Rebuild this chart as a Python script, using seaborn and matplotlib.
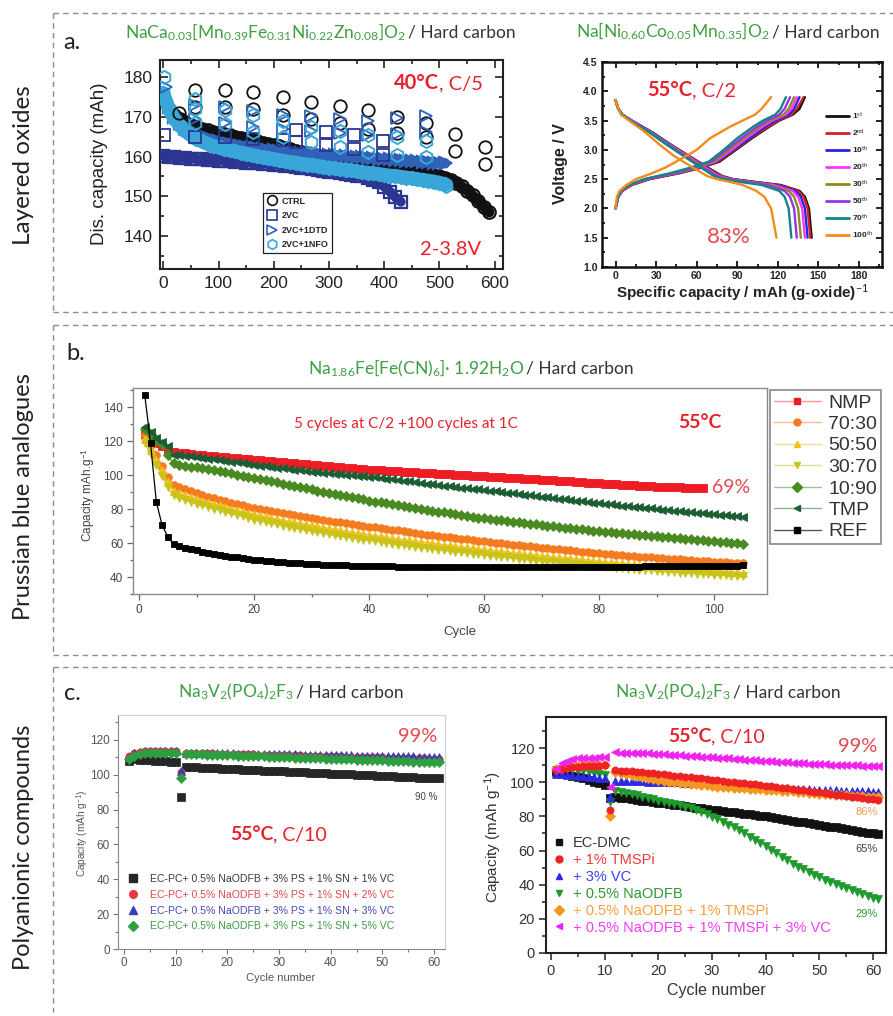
import numpy as np
import matplotlib
matplotlib.use("Agg")
import matplotlib.pyplot as plt
from matplotlib.lines import Line2D
from matplotlib.ticker import MultipleLocator, FormatStrFormatter
import seaborn as sns

# ======================= DATA =======================
# ---- (a) left: NaCa0.03[...]O2 / HC, discharge capacity vs cycle ----
A1_CTRL_CYC = list(range(0, 600, 10))
A1_CTRL_CAP = [174.0, 172.0, 170.5, 169.5, 168.7, 168.0, 167.5, 167.0, 166.6, 166.2,
               165.9, 165.6, 165.3, 165.0, 164.7, 164.4, 164.1, 163.8, 163.5, 163.2,
               162.9, 162.6, 162.2, 161.9, 161.5, 161.2, 160.8, 160.5, 160.1, 159.8,
               159.5, 159.2, 158.9, 158.6, 158.4, 158.2, 158.0, 157.8, 157.6, 157.4,
               157.2, 157.0, 156.8, 156.6, 156.4, 156.2, 156.0, 155.8, 155.6, 155.4,
               155.1, 154.7, 154.1, 153.4, 152.5, 151.4, 150.2, 148.8, 147.4, 146.0]
A1_VC_CYC = list(range(0, 440, 10))
A1_VC_CAP = [160.2, 160.0, 159.8, 159.7, 159.6, 159.5, 159.4, 159.3, 159.2, 159.1,
             159.0, 158.9, 158.8, 158.7, 158.6, 158.5, 158.4, 158.3, 158.2, 158.1,
             158.0, 157.8, 157.7, 157.5, 157.4, 157.2, 157.0, 156.8, 156.6, 156.4,
             156.2, 156.0, 155.8, 155.6, 155.4, 155.2, 155.0, 154.7, 154.2, 153.5,
             152.4, 151.2, 149.8, 148.6]
A1_DTD_CYC = list(range(0, 520, 10))
A1_DTD_CAP = [176.0, 172.5, 170.0, 168.5, 167.3, 166.4, 165.7, 165.1, 164.6, 164.2,
              163.8, 163.5, 163.2, 162.9, 162.7, 162.5, 162.3, 162.1, 161.9, 161.7,
              161.6, 161.4, 161.3, 161.2, 161.0, 160.9, 160.8, 160.7, 160.6, 160.5,
              160.4, 160.3, 160.2, 160.1, 160.0, 159.9, 159.8, 159.7, 159.6, 159.5,
              159.4, 159.3, 159.2, 159.1, 159.0, 158.9, 158.8, 158.7, 158.6, 158.5,
              158.4, 158.3]
A1_NFO_CYC = list(range(0, 520, 10))
A1_NFO_CAP = [176.0, 172.0, 169.5, 167.8, 166.5, 165.4, 164.5, 163.8, 163.2, 162.7,
              162.3, 161.9, 161.6, 161.3, 161.0, 160.7, 160.4, 160.1, 159.8, 159.6,
              159.3, 159.1, 158.8, 158.6, 158.4, 158.2, 158.0, 157.8, 157.6, 157.4,
              157.2, 157.0, 156.8, 156.7, 156.5, 156.3, 156.1, 155.9, 155.8, 155.6,
              155.4, 155.2, 155.1, 154.9, 154.7, 154.5, 154.3, 154.1, 153.9, 153.7,
              153.4, 153.0]
# periodic check-up points
A1_CTRL_SP_CYC = [28, 58, 58, 111, 111, 163, 163, 216, 216, 268, 268, 320, 320, 371, 371,
                  423, 423, 475, 475, 529, 529, 583, 583]
A1_CTRL_SP_CAP = [171.0, 176.7, 172.5, 176.7, 172.5, 176.2, 172.0, 174.9, 170.5, 173.7, 169.5,
                  172.6, 168.5, 171.6, 167.0, 170.0, 166.0, 168.4, 165.0, 165.6, 161.3, 162.3, 158.2]
A1_VC_SP_CYC = [2, 58, 111, 163, 216, 241, 241, 294, 294, 345, 345, 398, 398, 430]
A1_VC_SP_CAP = [165.5, 165.0, 164.8, 164.5, 164.2, 166.6, 163.6, 166.2, 163.0, 165.3, 161.8, 163.9, 160.4,
                148.6]
A1_DTD_SP_CYC = [4, 58, 58, 111, 111, 163, 163, 216, 216, 268, 268, 320, 320, 371, 371,
                 423, 423, 475, 475, 511]
A1_DTD_SP_CAP = [177.5, 173.0, 169.5, 172.5, 168.5, 171.5, 167.5, 170.5, 167.0, 170.1, 166.5,
                 169.4, 166.0, 169.0, 165.5, 169.8, 165.8, 170.2, 166.3, 158.3]
A1_NFO_SP_CYC = [2, 58, 58, 58, 111, 111, 163, 163, 216, 216, 268, 268, 320, 320, 371, 371,
                 423, 423, 475, 475, 512]
A1_NFO_SP_CAP = [180.0, 174.5, 172.0, 168.5, 171.8, 168.2, 170.5, 166.2, 169.0, 164.8, 167.5,
                 163.6, 166.5, 162.5, 165.5, 161.2, 164.8, 160.4, 164.0, 159.8, 152.5]

# ---- (a) right: voltage profiles ----
A2_CYCLES = ['1st', '2nd', '10th', '20th', '30th', '50th', '70th', '100th']
A2_V_CHG = [2.0, 2.2, 2.3, 2.4, 2.5, 2.6, 2.7, 2.8, 3.0, 3.2, 3.4, 3.5, 3.6, 3.7, 3.9]
A2_CAP_CHG = {
    '1st':   [0, 2, 5, 12, 25, 47, 64, 77, 89, 101, 114, 121, 131, 136, 140],
    '2nd':   [0, 2, 5, 12, 25, 46, 63, 76, 88, 100, 113, 120, 130, 134, 139],
    '10th':  [0, 2, 5, 11, 24, 45, 62, 75, 87, 99, 111, 118, 128, 132, 136],
    '20th':  [0, 2, 5, 11, 23, 44, 61, 74, 86, 97, 109, 116, 126, 130, 134],
    '30th':  [0, 2, 4, 11, 23, 43, 60, 73, 84, 95, 107, 114, 124, 128, 132],
    '50th':  [0, 2, 4, 10, 22, 42, 58, 71, 82, 93, 105, 112, 121, 125, 129],
    '70th':  [0, 2, 4, 10, 21, 40, 56, 69, 80, 90, 102, 109, 118, 122, 126],
    '100th': [0, 1, 3, 8, 15, 27, 37, 45, 60, 70, 85, 94, 103, 108, 115],
}
A2_V_DIS = [3.85, 3.7, 3.6, 3.5, 3.3, 3.1, 2.9, 2.7, 2.55, 2.5, 2.45, 2.4, 2.3, 2.2, 2.0, 1.5]
A2_CAP_DIS = {
    '1st':   [0, 2, 5, 12, 27, 40, 54, 68, 79, 87, 104, 122, 136, 140, 143, 145],
    '2nd':   [0, 2, 5, 12, 27, 40, 54, 68, 79, 87, 103, 121, 135, 139, 142, 144],
    '10th':  [0, 2, 5, 12, 27, 40, 53, 67, 78, 86, 102, 119, 133, 137, 140, 142],
    '20th':  [0, 2, 5, 12, 26, 39, 53, 66, 77, 85, 100, 117, 131, 135, 138, 140],
    '30th':  [0, 2, 5, 11, 26, 39, 52, 65, 76, 84, 98, 115, 128, 132, 135, 137],
    '50th':  [0, 2, 5, 11, 25, 38, 51, 64, 75, 82, 96, 112, 125, 129, 132, 134],
    '70th':  [0, 2, 5, 11, 25, 37, 50, 63, 73, 80, 93, 108, 121, 125, 128, 130],
    '100th': [0, 2, 4, 10, 22, 32, 43, 57, 68, 75, 85, 94, 104, 110, 115, 119],
}
A2_COLORS = ['#111111', '#d42323', '#2424e6', '#ff33ff', '#8c8c1e', '#9933e6', '#138585', '#f28c1e']

# ---- (b) Prussian blue analogue ----
B_NAMES = ['NMP', '70:30', '50:50', '30:70', '10:90', 'TMP', 'REF']
B_NMP = [124.0, 121.5, 119.0, 117.0, 115.0, 113.5, 113.1, 112.8, 112.4, 112.0,
         111.7, 111.4, 111.1, 110.8, 110.5, 110.2, 109.9, 109.6, 109.3, 109.0,
         108.7, 108.4, 108.1, 107.8, 107.5, 107.2, 106.9, 106.6, 106.3, 106.0,
         105.7, 105.4, 105.1, 104.8, 104.5, 104.2, 103.9, 103.7, 103.4, 103.2,
         103.0, 102.8, 102.6, 102.4, 102.2, 102.0, 101.8, 101.6, 101.4, 101.2,
         101.0, 100.8, 100.6, 100.4, 100.2, 100.0, 99.8, 99.6, 99.4, 99.2,
         99.0, 98.8, 98.6, 98.4, 98.2, 98.0, 97.8, 97.6, 97.4, 97.2,
         97.0, 96.8, 96.6, 96.4, 96.2, 96.0, 95.8, 95.6, 95.4, 95.2,
         95.0, 94.8, 94.6, 94.4, 94.2, 94.0, 93.8, 93.6, 93.4, 93.2,
         93.0, 92.9, 92.8, 92.7, 92.6, 92.5, 92.4, 92.3]
B_7030 = [123.5, 117.5, 111.5, 105.5, 99.0, 94.0, 92.8, 91.6, 90.4, 89.3,
          88.3, 87.3, 86.3, 85.4, 84.5, 83.7, 82.9, 82.1, 81.3, 80.5,
          79.9, 79.3, 78.6, 78.0, 77.4, 76.8, 76.2, 75.7, 75.1, 74.6,
          74.1, 73.6, 73.1, 72.6, 72.1, 71.6, 71.1, 70.6, 70.2, 69.7,
          69.2, 68.7, 68.3, 67.8, 67.4, 66.9, 66.5, 66.0, 65.5, 65.0,
          64.6, 64.2, 63.8, 63.4, 63.0, 62.6, 62.2, 61.8, 61.4, 61.0,
          60.6, 60.2, 59.9, 59.5, 59.1, 58.8, 58.4, 58.0, 57.7, 57.3,
          57.0, 56.6, 56.3, 55.9, 55.6, 55.3, 55.0, 54.6, 54.3, 54.0,
          53.7, 53.4, 53.1, 52.8, 52.5, 52.3, 52.0, 51.7, 51.5, 51.2,
          51.0, 50.7, 50.5, 50.3, 50.0, 49.8, 49.6, 49.4, 49.2, 49.0,
          48.8, 48.6, 48.4, 48.2, 48.0]
B_5050 = [121.0, 115.0, 109.0, 103.0, 96.0, 90.5, 89.2, 88.0, 87.0, 86.0,
          85.0, 84.0, 83.0, 82.1, 81.2, 80.3, 79.4, 78.6, 77.8, 77.0,
          76.3, 75.6, 74.9, 74.2, 73.5, 72.8, 72.2, 71.6, 71.0, 70.4,
          69.8, 69.2, 68.6, 68.0, 67.4, 66.9, 66.4, 65.9, 65.4, 64.9,
          64.4, 63.9, 63.4, 63.0, 62.5, 62.0, 61.6, 61.1, 60.7, 60.2,
          59.8, 59.4, 59.0, 58.6, 58.2, 57.8, 57.4, 57.0, 56.6, 56.2,
          55.8, 55.4, 55.1, 54.7, 54.4, 54.0, 53.7, 53.3, 53.0, 52.6,
          52.3, 52.0, 51.6, 51.3, 51.0, 50.6, 50.3, 50.0, 49.6, 49.3,
          49.0, 48.7, 48.4, 48.1, 47.8, 47.5, 47.2, 46.9, 46.6, 46.3,
          46.0, 45.8, 45.5, 45.3, 45.0, 44.8, 44.5, 44.3, 44.0, 43.8,
          43.5, 43.3, 43.0, 42.8, 42.5]
B_3070 = [119.0, 112.5, 106.0, 99.5, 93.0, 88.0, 86.5, 85.3, 84.2, 83.2,
          82.2, 81.2, 80.2, 79.2, 78.3, 77.4, 76.5, 75.6, 74.7, 73.8,
          73.0, 72.3, 71.6, 70.9, 70.2, 69.5, 68.8, 68.2, 67.6, 67.0,
          66.4, 65.8, 65.2, 64.6, 64.0, 63.5, 63.0, 62.5, 62.0, 61.5,
          61.0, 60.5, 60.0, 59.6, 59.1, 58.7, 58.2, 57.8, 57.3, 56.9,
          56.5, 56.1, 55.7, 55.3, 54.9, 54.5, 54.1, 53.7, 53.3, 52.9,
          52.5, 52.2, 51.8, 51.5, 51.1, 50.8, 50.4, 50.1, 49.7, 49.4,
          49.1, 48.8, 48.4, 48.1, 47.8, 47.5, 47.2, 46.9, 46.6, 46.3,
          46.0, 45.7, 45.5, 45.2, 44.9, 44.7, 44.4, 44.1, 43.9, 43.6,
          43.4, 43.1, 42.9, 42.6, 42.4, 42.2, 41.9, 41.7, 41.5, 41.3,
          41.1, 40.9, 40.7, 40.5, 40.3]
B_1090 = [127.0, 124.0, 120.5, 118.0, 111.5, 107.0, 106.0, 105.5, 105.0, 104.5,
          103.9, 103.3, 102.7, 102.1, 101.5, 100.9, 100.3, 99.7, 99.1, 98.5,
          97.8, 97.1, 96.4, 95.7, 95.0, 94.3, 93.6, 92.9, 92.2, 91.5,
          90.8, 90.1, 89.4, 88.7, 88.0, 87.4, 86.8, 86.2, 85.6, 85.0,
          84.4, 83.9, 83.3, 82.8, 82.2, 81.7, 81.1, 80.6, 80.0, 79.5,
          79.0, 78.5, 78.0, 77.5, 77.0, 76.5, 76.0, 75.5, 75.0, 74.5,
          74.1, 73.7, 73.3, 72.9, 72.5, 72.1, 71.7, 71.3, 70.9, 70.5,
          70.1, 69.8, 69.4, 69.1, 68.7, 68.4, 68.0, 67.7, 67.3, 67.0,
          66.7, 66.4, 66.1, 65.8, 65.5, 65.2, 64.9, 64.6, 64.3, 64.0,
          63.7, 63.4, 63.1, 62.8, 62.5, 62.2, 61.9, 61.6, 61.3, 61.0,
          60.7, 60.4, 60.1, 59.8, 59.5]
B_TMP = [128.5, 125.5, 122.0, 119.5, 117.0, 112.0, 111.6, 111.3, 110.9, 110.5,
         110.1, 109.7, 109.2, 108.8, 108.4, 107.9, 107.5, 107.0, 106.5, 106.0,
         105.6, 105.2, 104.8, 104.4, 104.0, 103.6, 103.2, 102.8, 102.4, 102.0,
         101.7, 101.4, 101.1, 100.8, 100.5, 100.2, 99.9, 99.6, 99.3, 99.0,
         98.6, 98.2, 97.8, 97.4, 97.0, 96.6, 96.2, 95.8, 95.4, 95.0,
         94.6, 94.2, 93.8, 93.4, 93.0, 92.6, 92.2, 91.9, 91.5, 91.2,
         90.8, 90.4, 90.0, 89.6, 89.2, 88.8, 88.4, 88.0, 87.6, 87.2,
         86.8, 86.4, 86.0, 85.6, 85.3, 84.9, 84.5, 84.1, 83.8, 83.4,
         83.1, 82.7, 82.4, 82.0, 81.7, 81.4, 81.0, 80.7, 80.4, 80.0,
         79.7, 79.4, 79.1, 78.8, 78.4, 78.1, 77.8, 77.5, 77.2, 76.9,
         76.6, 76.3, 76.0, 75.7, 75.4]
B_REF = [147.0, 118.8, 84.3, 70.6, 63.7, 59.2, 58.2, 57.3, 56.5, 55.7,
         55.0, 54.3, 53.7, 53.1, 52.5, 52.0, 51.5, 51.0, 50.6, 50.2,
         49.8, 49.5, 49.2, 48.9, 48.6, 48.4, 48.2, 48.0, 47.8, 47.6,
         47.4, 47.3, 47.2, 47.0, 46.9, 46.8, 46.7, 46.6, 46.5, 46.4,
         46.3, 46.3, 46.2, 46.2, 46.1, 46.1, 46.0, 46.0, 45.9, 45.9,
         45.9, 45.8, 45.8, 45.8, 45.8, 45.7, 45.7, 45.7, 45.7, 45.7,
         45.7, 45.7, 45.7, 45.7, 45.7, 45.7, 45.7, 45.7, 45.7, 45.7,
         45.7, 45.7, 45.8, 45.8, 45.8, 45.8, 45.8, 45.9, 45.9, 45.9,
         45.9, 46.0, 46.0, 46.0, 46.1, 46.1, 46.1, 46.2, 46.2, 46.2,
         46.3, 46.3, 46.3, 46.4, 46.4, 46.4, 46.5, 46.5, 46.5, 46.6,
         46.6, 46.6, 46.7, 46.7, 46.8]
B_VALUES = [B_NMP, B_7030, B_5050, B_3070, B_1090, B_TMP, B_REF]
B_COLORS = ['#ee1c25', '#f47b20', '#efc21a', '#c9c41c', '#4a8a22', '#1b5e34', '#000000']
B_LINE = ['#f49a9a', '#f7bd92', '#f3df8f', '#e0dd90', '#9fc08f', '#8fae9c', '#555555']
B_MARK = ['s', 'o', '^', 'v', 'D', '<', 's']

# ---- (c) left: Na3V2(PO4)2F3 / HC, EC-PC + additives ----
C1_LABELS = ['EC-PC+ 0.5% NaODFB + 3% PS + 1% SN + 1% VC',
             'EC-PC+ 0.5% NaODFB + 3% PS + 1% SN + 2% VC',
             'EC-PC+ 0.5% NaODFB + 3% PS + 1% SN + 3% VC',
             'EC-PC+ 0.5% NaODFB + 3% PS + 1% SN + 5% VC']
C1_VC1 = [108.0, 108.8, 108.7, 108.5, 108.3, 108.1, 107.9, 107.7, 107.5, 107.3,
          87.5, 104.5, 104.3, 104.2, 104.0, 103.9, 103.8, 103.6, 103.5, 103.4,
          103.2, 103.1, 103.0, 102.8, 102.7, 102.6, 102.4, 102.3, 102.2, 102.0,
          101.9, 101.8, 101.6, 101.5, 101.4, 101.2, 101.1, 101.0, 100.8, 100.7,
          100.6, 100.4, 100.3, 100.2, 100.0, 99.9, 99.8, 99.6, 99.5, 99.4,
          99.2, 99.1, 99.0, 98.8, 98.7, 98.6, 98.4, 98.3, 98.2, 98.0, 97.9]
C1_VC2 = [110.5, 112.5, 113.3, 113.7, 113.8, 113.8, 113.8, 113.7, 113.7, 113.6,
          101.5, 112.6, 112.5, 112.5, 112.4, 112.3, 112.3, 112.2, 112.1, 112.1,
          112.0, 111.9, 111.8, 111.8, 111.7, 111.6, 111.6, 111.5, 111.4, 111.4,
          111.3, 111.2, 111.1, 111.1, 111.0, 110.9, 110.9, 110.8, 110.7, 110.7,
          110.6, 110.5, 110.4, 110.4, 110.3, 110.2, 110.2, 110.1, 110.0, 110.0,
          109.9, 109.8, 109.7, 109.7, 109.6, 109.5, 109.5, 109.4, 109.3, 109.3, 109.2]
C1_VC3 = [110.0, 112.3, 113.3, 113.8, 113.9, 113.9, 113.9, 113.8, 113.8, 113.7,
          102.0, 112.7, 112.7, 112.6, 112.6, 112.5, 112.5, 112.4, 112.4, 112.3,
          112.3, 112.2, 112.2, 112.1, 112.1, 112.0, 112.0, 111.9, 111.9, 111.8,
          111.8, 111.7, 111.7, 111.6, 111.6, 111.5, 111.5, 111.4, 111.4, 111.3,
          111.2, 111.2, 111.1, 111.1, 111.0, 111.0, 110.9, 110.9, 110.8, 110.8,
          110.7, 110.7, 110.6, 110.6, 110.5, 110.5, 110.4, 110.4, 110.3, 110.3, 110.2]
C1_VC5 = [109.0, 111.0, 112.0, 112.5, 112.6, 112.6, 112.6, 112.5, 112.5, 112.4,
          98.0, 112.0, 111.9, 111.8, 111.7, 111.6, 111.5, 111.4, 111.3, 111.2,
          111.1, 111.0, 110.9, 110.8, 110.7, 110.6, 110.5, 110.4, 110.3, 110.2,
          110.1, 110.0, 109.9, 109.8, 109.7, 109.6, 109.5, 109.4, 109.3, 109.2,
          109.1, 109.0, 108.9, 108.8, 108.7, 108.6, 108.5, 108.4, 108.3, 108.2,
          108.1, 108.0, 107.9, 107.8, 107.7, 107.6, 107.5, 107.4, 107.3, 107.2, 107.1]
C1_VALUES = [C1_VC1, C1_VC2, C1_VC3, C1_VC5]
C1_COLORS = ['#262626', '#e8383d', '#3b3bb5', '#2f9e41']
C1_TXTCOL = ['#3a3a3a', '#e04a4f', '#4848b8', '#3a9e48']
C1_MARK = ['s', 'o', '^', 'D']

# ---- (c) right: Na3V2(PO4)2F3 / HC, EC-DMC + additives ----
C2_LABELS = ['EC-DMC', '+ 1% TMSPi', '+ 3% VC', '+ 0.5% NaODFB',
             '+ 0.5% NaODFB + 1% TMSPi', '+ 0.5% NaODFB + 1% TMSPi + 3% VC']
C2_ECDMC = [106.0, 105.3, 104.6, 103.8, 103.0, 102.2, 101.3, 100.4, 99.5, 98.6,
            91.0, 91.5, 91.0, 90.6, 90.1, 89.7, 89.3, 88.8, 88.4, 88.0,
            87.6, 87.2, 86.8, 86.4, 86.0, 85.6, 85.2, 84.8, 84.4, 84.0,
            83.6, 83.2, 82.8, 82.4, 82.0, 81.6, 81.2, 80.8, 80.4, 80.0,
            79.5, 79.0, 78.5, 78.0, 77.5, 77.0, 76.5, 76.0, 75.5, 75.0,
            74.5, 74.0, 73.5, 73.0, 72.5, 72.0, 71.5, 71.0, 70.5, 70.0, 69.5]
C2_TMSPI = [107.0, 108.0, 108.5, 109.0, 109.2, 109.4, 109.5, 109.6, 109.7, 109.8,
            83.5, 107.0, 106.8, 106.6, 106.4, 106.1, 105.8, 105.5, 105.2, 104.9,
            104.6, 104.2, 103.9, 103.6, 103.2, 102.9, 102.5, 102.2, 101.8, 101.5,
            101.1, 100.8, 100.4, 100.1, 99.7, 99.4, 99.0, 98.7, 98.3, 98.0,
            97.6, 97.2, 96.8, 96.4, 96.0, 95.6, 95.2, 94.8, 94.4, 94.0,
            93.6, 93.2, 92.8, 92.4, 92.0, 91.6, 91.2, 90.8, 90.4, 90.0, 89.6]
C2_VC = [105.0, 104.8, 104.5, 104.2, 103.9, 103.6, 103.3, 103.0, 102.7, 102.4,
         91.5, 100.8, 100.7, 100.6, 100.6, 100.5, 100.5, 100.4, 100.4, 100.3,
         100.2, 100.1, 100.0, 99.9, 99.8, 99.7, 99.6, 99.5, 99.4, 99.3,
         99.1, 98.9, 98.7, 98.5, 98.3, 98.1, 97.9, 97.7, 97.5, 97.3,
         97.1, 96.9, 96.7, 96.5, 96.3, 96.2, 96.0, 95.8, 95.7, 95.5,
         95.4, 95.3, 95.2, 95.1, 95.0, 94.9, 94.8, 94.7, 94.6, 94.5, 94.4]
C2_ODFB = [107.0, 107.5, 107.5, 107.2, 106.8, 106.3, 105.8, 105.2, 104.6, 104.0,
           88.5, 95.0, 94.4, 93.8, 93.1, 92.4, 91.6, 90.8, 90.0, 89.2,
           88.5, 87.8, 87.1, 86.4, 85.7, 84.8, 83.8, 82.6, 81.3, 79.9,
           78.4, 76.8, 75.2, 73.5, 71.8, 70.0, 68.2, 66.3, 64.4, 62.4,
           60.4, 58.3, 56.3, 54.3, 52.4, 50.6, 48.9, 47.3, 45.8, 44.4,
           42.9, 41.6, 40.3, 39.1, 37.9, 36.8, 35.7, 34.6, 33.5, 32.5, 31.5]
C2_ODFB_TMSPI = [107.5, 108.5, 109.0, 109.3, 109.6, 109.8, 110.0, 110.0, 110.1, 110.2,
                 80.5, 106.0, 105.4, 104.7, 104.0, 103.4, 102.8, 102.2, 101.7, 101.2,
                 100.8, 100.4, 100.0, 99.6, 99.3, 99.0, 98.7, 98.4, 98.1, 97.8,
                 97.5, 97.3, 97.1, 96.9, 96.7, 96.5, 96.3, 96.1, 95.9, 95.7,
                 95.5, 95.3, 95.1, 94.9, 94.7, 94.5, 94.2, 93.9, 93.6, 93.3,
                 93.1, 92.9, 92.7, 92.5, 92.3, 92.1, 91.9, 91.7, 91.5, 91.3, 91.1]
C2_ODFB_TMSPI_VC = [108.0, 111.0, 112.5, 113.5, 114.0, 114.0, 114.2, 114.3, 114.5, 115.0,
                    97.0, 117.5, 117.4, 117.3, 117.2, 117.1, 117.0, 116.9, 116.7, 116.5,
                    116.3, 116.1, 115.9, 115.7, 115.5, 115.3, 115.1, 114.9, 114.7, 114.5,
                    114.3, 114.1, 113.9, 113.7, 113.5, 113.3, 113.1, 112.9, 112.7, 112.5,
                    112.3, 112.1, 111.9, 111.7, 111.5, 111.3, 111.1, 110.9, 110.7, 110.5,
                    110.4, 110.3, 110.2, 110.1, 110.0, 109.9, 109.8, 109.7, 109.6, 109.5, 109.4]
C2_VALUES = [C2_ECDMC, C2_TMSPI, C2_VC, C2_ODFB, C2_ODFB_TMSPI, C2_ODFB_TMSPI_VC]
C2_COLORS = ['#111111', '#ee2222', '#2b2be6', '#1f9a2c', '#f5961e', '#f022f0']
C2_TXTCOL = ['#333333', '#f03a3a', '#4040ee', '#2a9a36', '#f7a040', '#f040f0']
C2_MARK = ['s', 'o', '^', 'v', 'D', '<']
C2_ORDER = [0, 3, 2, 4, 1, 5]

# ======================= STYLE =======================
sns.set_style("ticks")
plt.rcParams['font.family'] = ['Liberation Sans', 'DejaVu Sans']
plt.rcParams['mathtext.fontset'] = 'custom'
plt.rcParams['mathtext.rm'] = 'Lato'
plt.rcParams['mathtext.it'] = 'Lato:italic'
plt.rcParams['mathtext.bf'] = 'Lato:bold'

W, H = 893, 1016
GREEN = '#3f9f43'
RED = '#e8212a'
PINK = '#e5484f'

fig = plt.figure(figsize=(W / 100, H / 100), dpi=100)
fig.patch.set_facecolor('white')
R = fig.canvas.get_renderer()


def T(x, y, s, **kw):
    return fig.text(x / W, 1 - y / H, s, **kw)


def add_ax(l, t, r, b):
    return fig.add_axes([l / W, 1 - b / H, (r - l) / W, (b - t) / H])


def fline(x0, y0, x1, y1):
    fig.add_artist(Line2D([x0 / W, x1 / W], [1 - y0 / H, 1 - y1 / H], transform=fig.transFigure,
                          color='#7f90a8', lw=1.0, ls=(0, (4, 3))))


def two_part(x, y, s1, s2, size, c1, c2, w1='bold', w2='normal', fam='Lato'):
    t1 = T(x, y, s1, fontsize=size, color=c1, fontweight=w1, family=fam, ha='left', va='baseline')
    bb = t1.get_window_extent(renderer=R)
    T(bb.x1, y, s2, fontsize=size, color=c2, fontweight=w2, family=fam, ha='left', va='baseline')


def title(xslash, y, green, size=12.5):
    T(xslash - 2, y, green, ha='right', va='baseline', color=GREEN, family='Lato', fontsize=size)
    T(xslash, y, '/ Hard carbon', ha='left', va='baseline', color='#333333', family='Lato', fontsize=size)


def draw(ax, x, y, color, marker=None, ms=6, mfc=None, mec=None, mew=1.0, ls='-', lw=1.0, z=2, **kw):
    sns.lineplot(x=np.asarray(x, float), y=np.asarray(y, float), ax=ax, color=color,
                 marker=marker, markersize=ms,
                 markerfacecolor=(color if mfc is None else mfc),
                 markeredgecolor=(color if mec is None else mec),
                 markeredgewidth=mew, linestyle=ls, linewidth=lw,
                 estimator=None, sort=False, errorbar=None, legend=False, zorder=z, **kw)


# ======================= FRAMES / SECTION LABELS =======================
fline(53, 13, 893, 13); fline(53, 13, 53, 312); fline(53, 312, 893, 312)
fline(53, 325, 893, 325); fline(53, 325, 53, 655); fline(53, 655, 893, 655)
fline(53, 667, 893, 667); fline(53, 667, 53, 1012)

T(24, 165, 'Layered oxides', rotation=90, ha='center', va='center', fontsize=17.5, family='Lato', color='#222222')
T(24, 497, 'Prussian blue analogues', rotation=90, ha='center', va='center', fontsize=17, family='Lato', color='#222222')
T(24, 847, 'Polyanionic compounds', rotation=90, ha='center', va='center', fontsize=17, family='Lato', color='#222222')

T(63, 49, 'a.', fontsize=17, family='Lato', va='baseline', color='#222222')
T(66, 360, 'b.', fontsize=17, family='Lato', va='baseline', color='#222222')
T(64, 700, 'c.', fontsize=17, family='Lato', va='baseline', color='#222222')

title(408, 38, r'NaCa$_{0.03}$[Mn$_{0.39}$Fe$_{0.31}$Ni$_{0.22}$Zn$_{0.08}$]O$_2$')
title(772, 37, r'Na[Ni$_{0.60}$Co$_{0.05}$Mn$_{0.35}$]O$_2$')
title(526, 374, r'Na$_{1.86}$Fe[Fe(CN)$_6$]· 1.92H$_2$O')
title(296, 697, r'Na$_3$V$_2$(PO$_4$)$_2$F$_3$')
title(733, 697, r'Na$_3$V$_2$(PO$_4$)$_2$F$_3$')

# ======================= (a) left =======================
ax = add_ax(160, 60, 503, 269)
ax.set_xlim(-6, 615)
ax.set_ylim(131.7, 184.3)
A1C = ['#111111', '#2b3592', '#2f62b6', '#38a6d8']
dense = [(A1_CTRL_CYC, A1_CTRL_CAP, 'o', 9, 7.5), (A1_VC_CYC, A1_VC_CAP, 's', 8.5, 7.0),
         (A1_DTD_CYC, A1_DTD_CAP, '>', 9, 7.5), (A1_NFO_CYC, A1_NFO_CAP, 'h', 9.5, 10.0)]
for k, (cx, cy, m, ms, bw) in enumerate(dense):
    draw(ax, cx, cy, A1C[k], None, ls='-', lw=bw, z=2 + 2 * k, solid_capstyle='round')
    draw(ax, cx, cy, A1C[k], m, ms=ms, mfc='none', mew=1.6, ls='', z=3 + 2 * k)
draw(ax, A1_CTRL_SP_CYC, A1_CTRL_SP_CAP, A1C[0], 'o', ms=9, mfc='none', mew=1.3, ls='', z=10)
draw(ax, A1_VC_SP_CYC, A1_VC_SP_CAP, A1C[1], 's', ms=8.5, mfc='none', mew=1.3, ls='', z=10)
draw(ax, A1_DTD_SP_CYC, A1_DTD_SP_CAP, A1C[2], '>', ms=9, mfc='none', mew=1.3, ls='', z=10)
draw(ax, A1_NFO_SP_CYC, A1_NFO_SP_CAP, A1C[3], 'h', ms=9.5, mfc='none', mew=1.4, ls='', z=11)
ax.xaxis.set_major_locator(MultipleLocator(100)); ax.xaxis.set_minor_locator(MultipleLocator(50))
ax.yaxis.set_major_locator(MultipleLocator(10)); ax.yaxis.set_minor_locator(MultipleLocator(5))
ax.tick_params(which='both', direction='in', top=True, right=True, bottom=True, left=True,
               width=1.2, color='#222222')
ax.tick_params(which='major', length=6, labelsize=12.5, labelcolor='#222222', pad=5)
ax.tick_params(which='minor', length=3)
for s in ax.spines.values():
    s.set_linewidth(1.5); s.set_color('#222222')
T(100, 164, 'Dis. capacity (mAh)', rotation=90, ha='center', va='center', fontsize=13.5, color='#222222')
hd = [Line2D([], [], ls='', marker=m, ms=7, mfc='none', mec=c, mew=1.2)
      for m, c in zip(['o', 's', '>', 'h'], A1C)]
leg = ax.legend(hd, ['CTRL', '2VC', '2VC+1DTD', '2VC+1NFO'], loc='upper left',
                bbox_to_anchor=((263 - 160) / 343, 1 - (193 - 60) / 209), borderaxespad=0,
                prop={'family': 'Liberation Sans', 'weight': 'bold', 'size': 6.5},
                frameon=True, fancybox=False, edgecolor='#222222', framealpha=1,
                handletextpad=0.5, labelspacing=0.62, borderpad=0.4, handlelength=1.2)
leg.get_frame().set_linewidth(0.9)
leg.set_zorder(20)
two_part(394, 89, '40°C', ', C/5', 14.5, RED, RED)
T(420, 255, '2-3.8V', fontsize=14.5, family='Lato', color=RED, va='baseline')

# ======================= (a) right =======================
ax = add_ax(602, 62, 882, 267)
ax.set_xlim(-10, 197)
ax.set_ylim(1.0, 4.5)
for name, col in zip(A2_CYCLES, A2_COLORS):
    draw(ax, A2_CAP_CHG[name], A2_V_CHG, col, None, ls='-', lw=1.7)
    draw(ax, A2_CAP_DIS[name], A2_V_DIS, col, None, ls='-', lw=1.7)
ax.xaxis.set_major_locator(MultipleLocator(30)); ax.xaxis.set_minor_locator(MultipleLocator(15))
ax.yaxis.set_major_locator(MultipleLocator(0.5)); ax.yaxis.set_minor_locator(MultipleLocator(0.25))
ax.yaxis.set_major_formatter(FormatStrFormatter('%.1f'))
ax.tick_params(which='both', direction='in', top=True, right=True, bottom=True, left=True,
               width=1.3, color='#111111')
ax.tick_params(which='major', length=4.5, labelsize=7.5, labelcolor='#222222', pad=3)
ax.tick_params(which='minor', length=2.5)
plt.setp(ax.get_xticklabels(), fontweight='bold')
plt.setp(ax.get_yticklabels(), fontweight='bold')
for s in ax.spines.values():
    s.set_linewidth(1.8); s.set_color('#111111')
T(561, 164, 'Voltage / V', rotation=90, ha='center', va='center', fontsize=11.5, fontweight='bold', color='#222222')
T(742, 293, r'Specific capacity / mAh (g-oxide)$^{-1}$', ha='center', va='center', fontsize=11,
  fontweight='bold', color='#222222')
hd = [Line2D([], [], color=c, lw=2) for c in A2_COLORS]
lbl = [r'1$^{\rm st}$', r'2$^{\rm nd}$', r'10$^{\rm th}$', r'20$^{\rm th}$', r'30$^{\rm th}$',
       r'50$^{\rm th}$', r'70$^{\rm th}$', r'100$^{\rm th}$']
leg = ax.legend(hd, lbl, loc='upper left', bbox_to_anchor=((826 - 602) / 280, 1 - (110 - 62) / 205),
                borderaxespad=0, frameon=False, prop={'weight': 'bold', 'size': 6},
                handlelength=2.8, handletextpad=0.3, labelspacing=0.72, borderpad=0)
two_part(647, 96, '55°C', ', C/2', 14.5, RED, RED)
T(707, 243, '83%', fontsize=16, family='Lato', color=PINK, va='baseline')

# ======================= (b) =======================
ax = add_ax(133, 388, 767, 594)
ax.set_xlim(-1.05, 109.2)
ax.set_ylim(30, 151.2)
for i, (name, vals) in enumerate(zip(B_NAMES, B_VALUES)):
    cyc = np.arange(1, len(vals) + 1)
    draw(ax, cyc, vals, B_COLORS[i], B_MARK[i], ms=5.5 if i < 6 else 5.0, mew=0.6, ls='-',
         lw=0.9, z=2 + i)
ax.xaxis.set_major_locator(MultipleLocator(20)); ax.xaxis.set_minor_locator(MultipleLocator(10))
ax.yaxis.set_major_locator(MultipleLocator(20)); ax.yaxis.set_minor_locator(MultipleLocator(10))
ax.tick_params(which='both', direction='out', bottom=True, left=True, color='#666666', width=0.9)
ax.tick_params(which='major', length=4, labelsize=8.5, labelcolor='#444444', pad=3)
ax.tick_params(which='minor', length=2.5)
for s in ax.spines.values():
    s.set_linewidth(1.0); s.set_color('#8a8a8a')
T(88, 495, r'Capacity mAh.g$^{-1}$', rotation=90, ha='center', va='center', fontsize=8.5, color='#444444')
T(460, 632, 'Cycle', ha='center', va='center', fontsize=9.5, color='#444444')
hd = [Line2D([], [], color=B_LINE[i], lw=1.0, marker=B_MARK[i], ms=5, mfc=B_COLORS[i],
             mec=B_COLORS[i]) for i in range(len(B_NAMES))]
leg = ax.legend(hd, B_NAMES, loc='upper left', bbox_to_anchor=((770 - 133) / 634, 1 - (390 - 388) / 206),
                borderaxespad=0, frameon=True, fancybox=False, edgecolor='#888888', framealpha=1,
                prop={'family': 'Liberation Sans', 'size': 14}, handlelength=2.4,
                handletextpad=0.4, labelspacing=0.2, borderpad=0.2)
leg.get_frame().set_linewidth(1.2)
for t in leg.get_texts():
    t.set_color('#333333')
T(406, 428, '5 cycles at C/2 +100 cycles at 1C', ha='center', va='baseline', fontsize=11,
  family='Lato', color=RED)
T(700, 428, '55°C', ha='center', va='baseline', fontsize=14, fontweight='bold', family='Lato', color=RED)
T(731, 493, '69%', ha='center', va='baseline', fontsize=14, family='Lato', color=PINK)

# ======================= (c) left =======================
ax = add_ax(118, 715, 445, 949)
ax.set_xlim(-1.16, 62.1)
ax.set_ylim(0, 134.3)
for i, vals in enumerate(C1_VALUES):
    cyc = np.arange(1, len(vals) + 1)
    draw(ax, cyc, vals, C1_COLORS[i], C1_MARK[i], ms=5.2 if C1_MARK[i] != 'D' else 4.6,
         mew=0.5, ls='', z=2 + i)
ax.xaxis.set_major_locator(MultipleLocator(10)); ax.xaxis.set_minor_locator(MultipleLocator(5))
ax.yaxis.set_major_locator(MultipleLocator(20)); ax.yaxis.set_minor_locator(MultipleLocator(10))
ax.tick_params(which='both', direction='out', bottom=True, left=True, color='#777777', width=0.8)
ax.tick_params(which='major', length=3.5, labelsize=8.5, labelcolor='#555555', pad=2.5)
ax.tick_params(which='minor', length=2)
for k, s in ax.spines.items():
    s.set_linewidth(0.8)
    s.set_color('#888888' if k in ('left', 'bottom') else '#cfcfcf')
T(83, 833, r'Capacity (mAh g$^{-1}$)', rotation=90, ha='center', va='center', fontsize=7.2, color='#555555')
T(281, 978, 'Cycle number', ha='center', va='center', fontsize=8, color='#555555')
hd = [Line2D([], [], ls='', marker=C1_MARK[i], ms=5.5, mfc=C1_COLORS[i], mec=C1_COLORS[i])
      for i in range(4)]
leg = ax.legend(hd, C1_LABELS, loc='upper left', bbox_to_anchor=((129 - 118) / 327, 1 - (874 - 715) / 234),
                borderaxespad=0, frameon=False, prop={'family': 'Liberation Sans', 'size': 7.6},
                handlelength=0.8, handletextpad=1.2, labelspacing=0.55, borderpad=0)
for t, c in zip(leg.get_texts(), C1_TXTCOL):
    t.set_color(c)
T(398, 742, '99%', fontsize=14.5, family='Lato', color=PINK, va='baseline')
T(415, 800, '90 %', fontsize=7, color='#444444', va='baseline')
two_part(230, 840, '55°C', ', C/10', 14, RED, RED)

# ======================= (c) right =======================
ax = add_ax(546, 717, 886, 953)
ax.set_xlim(-0.93, 62.4)
ax.set_ylim(0, 138.2)
for j, i in enumerate(C2_ORDER):
    vals = C2_VALUES[i]
    cyc = np.arange(1, len(vals) + 1)
    draw(ax, cyc, vals, C2_COLORS[i], C2_MARK[i], ms=5.2 if C2_MARK[i] != 'D' else 4.6,
         mew=0.5, ls='', z=2 + j)
ax.xaxis.set_major_locator(MultipleLocator(10)); ax.xaxis.set_minor_locator(MultipleLocator(5))
ax.yaxis.set_major_locator(MultipleLocator(20)); ax.yaxis.set_minor_locator(MultipleLocator(10))
ax.tick_params(which='both', direction='out', bottom=True, left=True, color='#222222', width=1.1)
ax.tick_params(which='major', length=5, labelsize=10.5, labelcolor='#333333', pad=3)
ax.tick_params(which='minor', length=3)
for s in ax.spines.values():
    s.set_linewidth(1.5); s.set_color('#222222')
T(493, 837, r'Capacity (mAh g$^{-1}$)', rotation=90, ha='center', va='center', fontsize=11, color='#333333')
T(716, 990, 'Cycle number', ha='center', va='center', fontsize=11.5, color='#333333')
hd = [Line2D([], [], ls='', marker=C2_MARK[i], ms=5, mfc=C2_COLORS[i], mec=C2_COLORS[i])
      for i in range(6)]
leg = ax.legend(hd, C2_LABELS, loc='upper left', bbox_to_anchor=((554 - 546) / 340, 1 - (836 - 717) / 236),
                borderaxespad=0, frameon=False, prop={'family': 'Liberation Sans', 'size': 10.5},
                handlelength=0.7, handletextpad=0.6, labelspacing=0.2, borderpad=0)
for t, c in zip(leg.get_texts(), C2_TXTCOL):
    t.set_color(c)
two_part(668, 742, '55°C', ', C/10', 14, RED, RED)
T(838, 752, '99%', fontsize=14.5, family='Lato', color=PINK, va='baseline')
T(855, 815, '86%', fontsize=8, color='#f5a050', va='baseline')
T(855, 852, '65%', fontsize=8, color='#444444', va='baseline')
T(855, 917, '29%', fontsize=8, color='#2a9a36', va='baseline')

fig.savefig('out.png', dpi=100)
